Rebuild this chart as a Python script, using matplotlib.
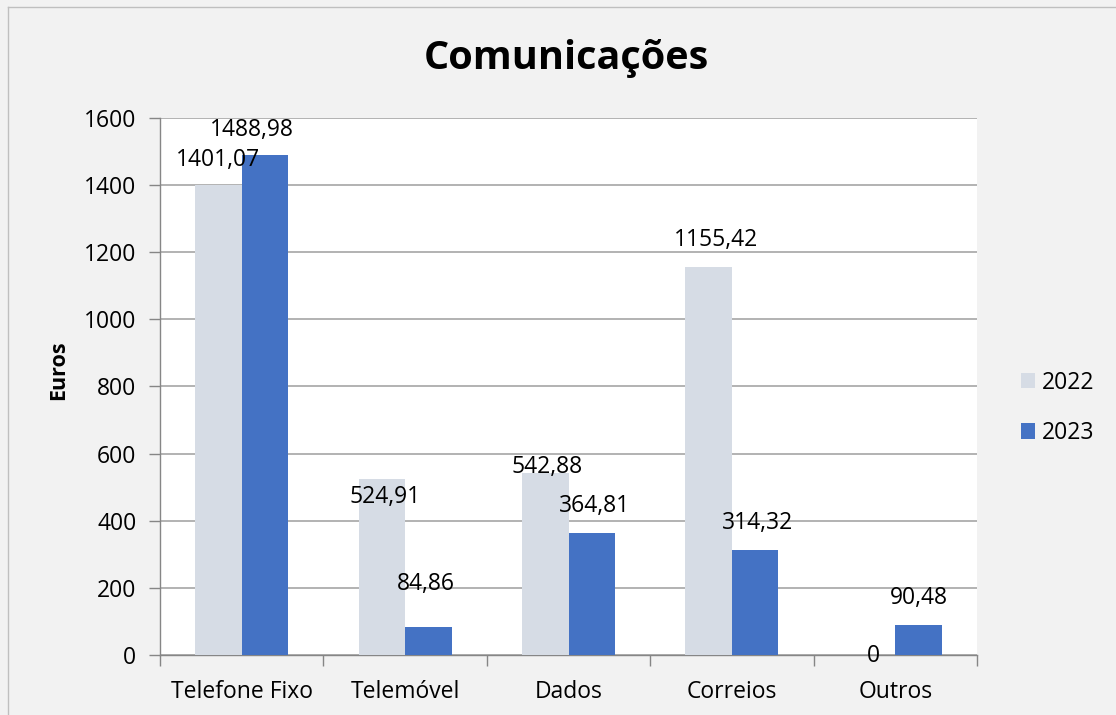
import numpy as np
import matplotlib.pyplot as plt
from matplotlib.lines import Line2D

categories = ['Telefone Fixo', 'Telemóvel', 'Dados', 'Correios', 'Outros']
values_2022 = [1401.07, 524.91, 542.88, 1155.42, 0]
values_2023 = [1488.98, 84.86, 364.81, 314.32, 90.48]
series_names = ['2022', '2023']

# label offsets (pixels) relative to the top centre of each bar
offsets_2022 = [(0, 25), (3, -18), (2, 6), (7, 27), (1, -1)]
offsets_2023 = [(-13, 25), (-3, 43), (3, 27), (2, 27), (0, 27)]

c2022 = '#d6dce5'
c2023 = '#4472c4'
grid_col = '#a6a6a6'
fs = 16.5

plt.rcParams['font.family'] = ['Open Sans', 'DejaVu Sans']

fig = plt.figure(figsize=(11.16, 7.15), dpi=100)
fig.patch.set_facecolor('#f2f2f2')
# outer chart border (left and top only visible)
fig.add_artist(Line2D([8 / 1116, 8 / 1116], [0, 1 - 7 / 715], transform=fig.transFigure,
                      color='#bfbfbf', lw=1))
fig.add_artist(Line2D([8 / 1116, 1], [1 - 7 / 715, 1 - 7 / 715], transform=fig.transFigure,
                      color='#bfbfbf', lw=1))

ax = fig.add_axes([160 / 1116, 1 - 655 / 715, 817 / 1116, 537 / 715])
ax.set_facecolor('white')

x = np.arange(len(categories))
w = 0.285
b1 = ax.bar(x - w / 2, values_2022, w, color=c2022, label=series_names[0], zorder=3)
b2 = ax.bar(x + w / 2, values_2023, w, color=c2023, label=series_names[1], zorder=3)

def fmt(v):
    return ('%.2f' % v).replace('.', ',') if v != 0 else '0'

for bars, vals, offs in [(b1, values_2022, offsets_2022), (b2, values_2023, offsets_2023)]:
    for bar, v, off in zip(bars, vals, offs):
        ax.annotate(fmt(v), (bar.get_x() + bar.get_width() / 2, v),
                    xytext=off, textcoords='offset pixels',
                    ha='center', va='center', fontsize=fs, zorder=4)

ax.set_xlim(-0.5, len(categories) - 0.5)
ax.set_ylim(0, 1600)
ax.set_yticks(np.arange(0, 1601, 200))
ax.yaxis.grid(True, color=grid_col, lw=1.2, zorder=0)
ax.set_xticks(x)
ax.set_xticklabels(categories, fontsize=fs)
ax.set_xticks(np.arange(-0.5, len(categories), 1), minor=True)
ax.tick_params(axis='x', which='major', length=0, pad=18)
ax.tick_params(axis='x', which='minor', length=8, color='#868686', width=1)
ax.tick_params(axis='y', length=8, color='#868686', width=1, labelsize=fs, pad=9)

for s in ['top', 'right']:
    ax.spines[s].set_visible(False)
for s in ['left', 'bottom']:
    ax.spines[s].set_color('#868686')
    ax.spines[s].set_linewidth(1)

ax.set_ylabel('Euros', fontsize=15.5, fontweight='bold')
ax.yaxis.set_label_coords(-0.111, 0.53)
fig.text((425 + 708) / 2 / 1116, 1 - 58 / 715, 'Comunicações', ha='center', va='center',
         fontsize=28.5, fontweight='bold')

leg = ax.legend(loc='center left', bbox_to_anchor=(1.028, 0.46), frameon=False,
                fontsize=fs, handlelength=0.65, handleheight=0.65, labelspacing=1.15,
                handletextpad=0.3)

fig.savefig('out.png', dpi=100, facecolor=fig.get_facecolor())
